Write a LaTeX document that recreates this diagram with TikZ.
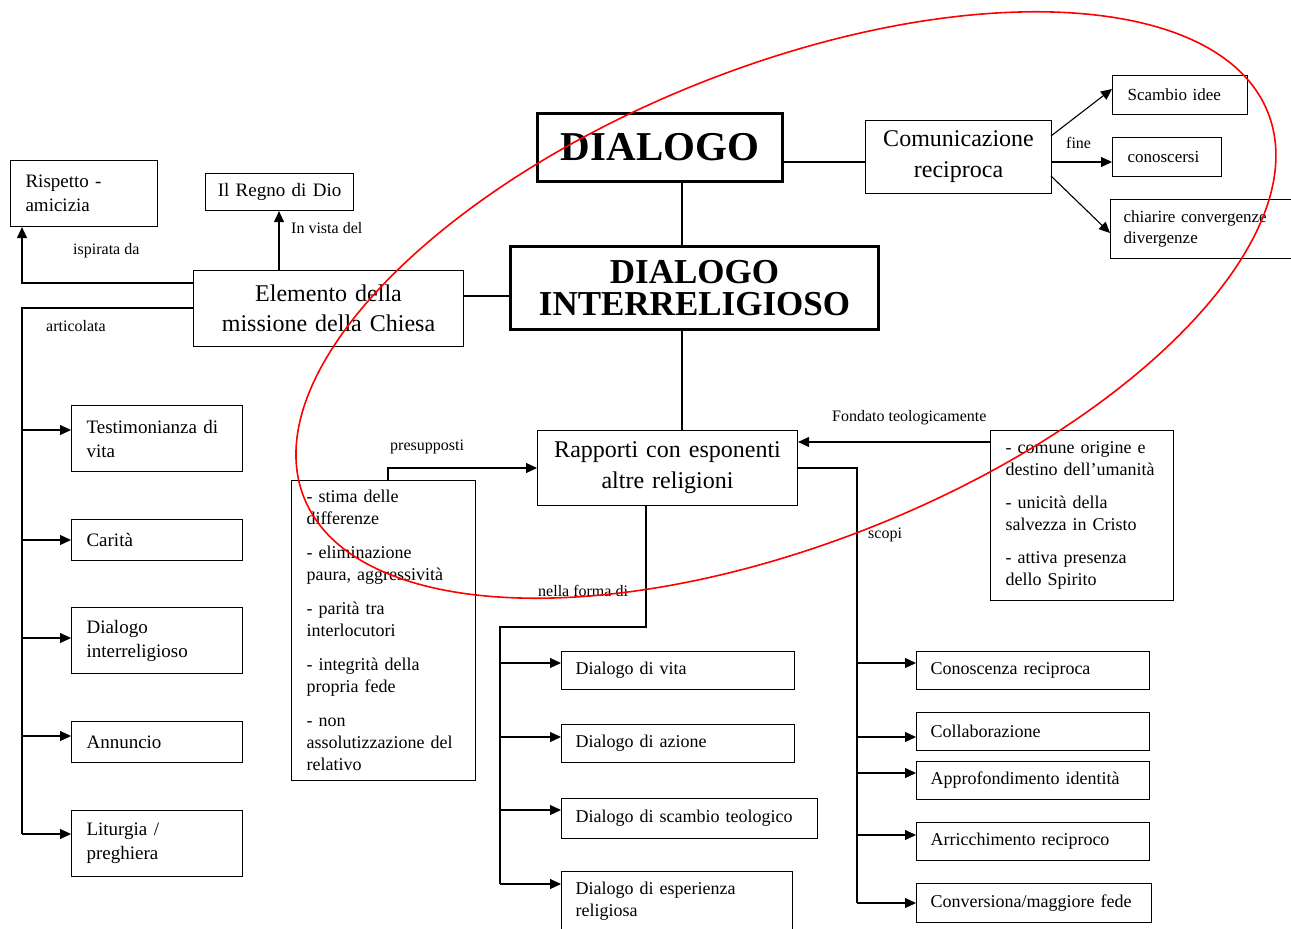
\documentclass[tikz,border=0pt]{standalone}
\usepackage{fontspec}
\setmainfont{Liberation Serif}
\usetikzlibrary{arrows.meta}
\newcommand\fsz[2]{\fontsize{#1}{#2}\selectfont}
\begin{document}
\begin{tikzpicture}[x=1pt,y=-1pt,
  box/.style={draw, line width=1.1pt, anchor=north west, inner ysep=0pt, inner xsep=15pt, align=left, font=\fsz{19}{24}},
  cbox/.style={box, align=center},
  tbox/.style={draw, line width=3pt, anchor=north west, inner sep=0pt, align=center, font=\bfseries\fsz{35}{32}},
  sbox/.style={box, inner xsep=14pt, font=\fsz{18}{22}},
  lab/.style={anchor=west, inner sep=0pt, font=\fsz{16}{19}},
  ln/.style={line width=1.1pt},
  arr/.style={line width=1.1pt, -{Triangle[length=11pt,width=10pt]}}]
\clip (0,0) rectangle (1291,929);
\fill[white] (0,0) rectangle (1291,929);

% top part
\node[box, text width=117pt, minimum height=66pt] (risp) at (10,160) {Rispetto -\\amicizia};
\node[cbox, inner xsep=4pt, text width=140pt, minimum height=37pt] (regno) at (205,173) {Il Regno di Dio};
\node[cbox, font=\fsz{24}{30}, inner xsep=0pt, text width=270pt, minimum height=76pt] (elem) at (193,270) {Elemento della\\missione della Chiesa};
\node[tbox, font=\bfseries\fsz{41}{40}, text width=245pt, minimum height=68pt] (dial) at (536,112) {DIALOGO};
\node[cbox, font=\fsz{24}{31}, inner xsep=0pt, text width=186pt, minimum height=73pt] (comu) at (865,120) {Comunicazione\\reciproca};
\node[box, font=\fsz{17}{21}, text width=105pt, minimum height=39pt] (scam) at (1112,75) {Scambio idee};
\node[box, font=\fsz{17}{21}, text width=79pt, minimum height=39pt] (cono) at (1112,137) {conoscersi};
\node[box, font=\fsz{17}{21}, inner xsep=13pt, text width=159pt, minimum height=59pt] (chia) at (1110,199) {chiarire convergenze\\divergenze};
\node[tbox, text width=368pt, minimum height=83pt] (dint) at (509,245) {DIALOGO\\INTERRELIGIOSO};
\node[cbox, font=\fsz{24}{31}, inner xsep=0pt, text width=260pt, minimum height=75pt] (rapp) at (537,430) {Rapporti con esponenti\\altre religioni};

% side boxes
\node[box, font=\fsz{18}{22}, text width=154pt, minimum height=300pt] (pres) at (291,480) {- stima delle\\differenze\\[12pt]- eliminazione\\paura, aggressività\\[12pt]- parità tra\\interlocutori\\[12pt]- integrità della\\propria fede\\[12pt]- non\\assolutizzazione del\\relativo};
\node[box, font=\fsz{18}{22}, text width=153pt, minimum height=170pt] (fond) at (990,430) {- comune origine e\\destino dell’umanità\\[11pt]- unicità della\\salvezza in Cristo\\[11pt]- attiva presenza\\dello Spirito};

% left column
\node[box, text width=141pt, minimum height=66pt] (test) at (71,405) {Testimonianza di\\vita};
\node[box, text width=141pt, minimum height=41pt] (cari) at (71,519) {Carità};
\node[box, text width=141pt, minimum height=66pt] (dint2) at (71,607) {Dialogo\\interreligioso};
\node[box, text width=141pt, minimum height=41pt] (annu) at (71,721) {Annuncio};
\node[box, text width=141pt, minimum height=66pt] (litu) at (71,810) {Liturgia /\\preghiera};

% middle column
\node[sbox, text width=205pt, minimum height=38pt] (dv) at (561,651) {Dialogo di vita};
\node[sbox, text width=205pt, minimum height=38pt] (da) at (561,724) {Dialogo di azione};
\node[sbox, text width=228pt, minimum height=40pt] (ds) at (561,798) {Dialogo di scambio teologico};
\node[sbox, text width=203pt, minimum height=60pt] (de) at (561,871) {Dialogo di esperienza\\religiosa};

% right column
\node[sbox, text width=205pt, minimum height=38pt] (r1) at (916,651) {Conoscenza reciproca};
\node[sbox, text width=205pt, minimum height=38pt] (r2) at (916,712) {Collaborazione};
\node[sbox, text width=205pt, minimum height=38pt] (r3) at (916,761) {Approfondimento identità};
\node[sbox, text width=205pt, minimum height=38pt] (r4) at (916,822) {Arricchimento reciproco};
\node[sbox, text width=207pt, minimum height=39pt] (r5) at (916,883) {Conversiona/maggiore fede};

% labels
\node[lab] (l1) at (73,251) {ispirata da};
\node[lab] (l2) at (291,228) {In vista del};
\node[lab] (l3) at (46,326) {articolata};
\node[lab] (l4) at (1066,143) {fine};
\node[lab] (l5) at (390,447) {presupposti};
\node[lab] (l6) at (832,418) {Fondato teologicamente};
\node[lab] (l7) at (868,535) {scopi};
\node[lab] (l8) at (538,591) {nella forma di};

% connectors: top
\coordinate (dc) at (0,162);
\draw[ln] (dial.east |- dc) -- (comu.west |- dc);
\coordinate (dv0) at (682,0);
\draw[ln] (dial.south -| dv0) -- (dint.north -| dv0);
\draw[ln] (dint.south -| dv0) -- (rapp.north -| dv0);
\coordinate (de0) at (0,296);
\draw[ln] (dint.west |- de0) -- (elem.east |- de0);

\coordinate (ca) at (1051,136);
\coordinate (cb) at (1112,89);
\draw[arr] (ca) -- (cb);
\coordinate (cc) at (0,162);
\draw[arr] (comu.east |- cc) -- (cono.west |- cc);
\coordinate (cd) at (1051,176);
\coordinate (ce) at (1110,233);
\draw[arr] (cd) -- (ce);

% Elemento
\coordinate (bendR) at (22,283);
\draw[arr] (elem.west |- bendR) -- (bendR) -- (bendR |- risp.south);
\coordinate (rg) at (279,0);
\draw[arr] (elem.north -| rg) -- (regno.south -| rg);
\coordinate (trunk) at (22,308);
\coordinate (t1) at (22,430);
\coordinate (t2) at (22,540);
\coordinate (t3) at (22,638);
\coordinate (t4) at (22,736);
\coordinate (t5) at (22,834);
\draw[ln] (elem.west |- trunk) -- (trunk) -- (t5);
\draw[arr] (t1) -- (t1 -| test.west);
\draw[arr] (t2) -- (t2 -| cari.west);
\draw[arr] (t3) -- (t3 -| dint2.west);
\draw[arr] (t4) -- (t4 -| annu.west);
\draw[arr] (t5) -- (t5 -| litu.west);

% Rapporti
\coordinate (p0) at (388,468);
\draw[arr] (pres.north -| p0) -- (p0) -- (p0 -| rapp.west);
\coordinate (f0) at (0,442);
\draw[arr] (fond.west |- f0) -- (rapp.east |- f0);

\coordinate (m0) at (646,627);
\coordinate (m1) at (500,627);
\coordinate (n1) at (500,663);
\coordinate (n2) at (500,737);
\coordinate (n3) at (500,810);
\coordinate (n4) at (500,884);
\draw[ln] (rapp.south -| m0) -- (m0) -- (m1) -- (n4);
\draw[arr] (n1) -- (n1 -| dv.west);
\draw[arr] (n2) -- (n2 -| da.west);
\draw[arr] (n3) -- (n3 -| ds.west);
\draw[arr] (n4) -- (n4 -| de.west);

\coordinate (s0) at (857,468);
\coordinate (s1) at (857,663);
\coordinate (s2) at (857,737);
\coordinate (s3) at (857,773);
\coordinate (s4) at (857,835);
\coordinate (s5) at (857,903);
\draw[ln] (rapp.east |- s0) -- (s0) -- (s5);
\draw[arr] (s1) -- (s1 -| r1.west);
\draw[arr] (s2) -- (s2 -| r2.west);
\draw[arr] (s3) -- (s3 -| r3.west);
\draw[arr] (s4) -- (s4 -| r4.west);
\draw[arr] (s5) -- (s5 -| r5.west);

% red ellipse
\coordinate (ec) at (786,305);
\draw[red, line width=1.6pt, rotate around={21.8:(ec)}] (ec) ellipse [x radius=519pt, y radius=238pt];
\end{tikzpicture}
\end{document}
